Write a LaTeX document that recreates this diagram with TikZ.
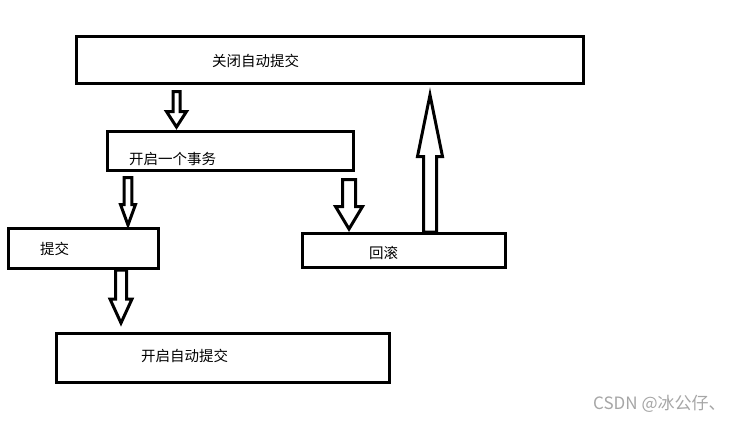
\documentclass[tikz,border=0pt]{standalone}
\usepackage{fontspec}
\newfontfamily\cjk{Noto Sans CJK SC}
\usetikzlibrary{calc}

\newcommand\blockarrow[5]{%
  \path ($(#2)!#5!(#1)$) coordinate (hb);
  \draw[blk] ($(#1)!#3!90:(#2)$) -- ($(hb)!#3!90:(#2)$) -- ($(hb)!#4!90:(#2)$) -- (#2)
    -- ($(hb)!#4!-90:(#2)$) -- ($(hb)!#3!-90:(#2)$) -- ($(#1)!#3!-90:(#2)$) -- cycle;}

\begin{document}
\begin{tikzpicture}[x=1pt,y=-1pt,font={\cjk\fontsize{14.5}{17}\selectfont},
  b/.style={draw,line width=3pt,inner sep=0pt},
  t/.style={anchor=west,inner sep=0pt},
  blk/.style={draw,line width=3pt,fill=white}]
\useasboundingbox[fill=white] (0,0) rectangle (734,423);
\node[b,minimum width=507pt,minimum height=47pt,label={[t,xshift=137pt,yshift=-1.5pt]west:关闭自动提交}] (off) at (330,59.5) {};
\node[b,minimum width=246pt,minimum height=39pt,label={[t,xshift=23pt,yshift=-8.5pt]west:开启一个事务}] (txn) at (230.5,151) {};
\node[b,minimum width=150pt,minimum height=40pt,label={[t,xshift=33pt]west:提交}] (ok) at (83.5,248.5) {};
\node[b,minimum width=203pt,minimum height=34pt,label={[t,xshift=68pt,yshift=-2.5pt]west:回滚}] (rb) at (404,250.5) {};
\node[b,minimum width=333pt,minimum height=49pt,label={[t,xshift=86pt,yshift=2pt]west:开启自动提交}] (on) at (223,358) {};
\coordinate (a1s) at ($(off.south -| 176.5,0)+(0,7)$);
\coordinate (a1t) at ($(txn.north -| 176.5,0)+(0,-3)$);
\coordinate (a2s) at ($(txn.south -| 128,0)+(0,5.5)$);
\coordinate (a2t) at ($(ok.north -| 128,0)+(0,-2)$);
\coordinate (a3s) at ($(txn.south -| 349,0)+(0,7.5)$);
\coordinate (a3t) at ($(rb.north -| 349,0)+(0,-3)$);
\coordinate (a4s) at (rb.north -| 430,0);
\coordinate (a4t) at ($(off.south -| 430,0)+(0,10.5)$);
\coordinate (a5s) at (ok.south -| 121,0);
\coordinate (a5t) at ($(on.north -| 121,0)+(0,-9)$);
\blockarrow{a1s}{a1t}{3.5pt}{10pt}{15.5pt}
\blockarrow{a2s}{a2t}{3.8pt}{7.5pt}{20.5pt}
\blockarrow{a3s}{a3t}{6.5pt}{13.5pt}{22.5pt}
\blockarrow{a4s}{a4t}{6.5pt}{12.5pt}{61.5pt}
\blockarrow{a5s}{a5t}{5.5pt}{11pt}{24pt}
\node[anchor=west,inner sep=0pt,text=gray!70,font={\cjk\fontsize{17}{20}\selectfont}] (wm) at (593,404) {CSDN @冰公仔、};
\end{tikzpicture}
\end{document}
